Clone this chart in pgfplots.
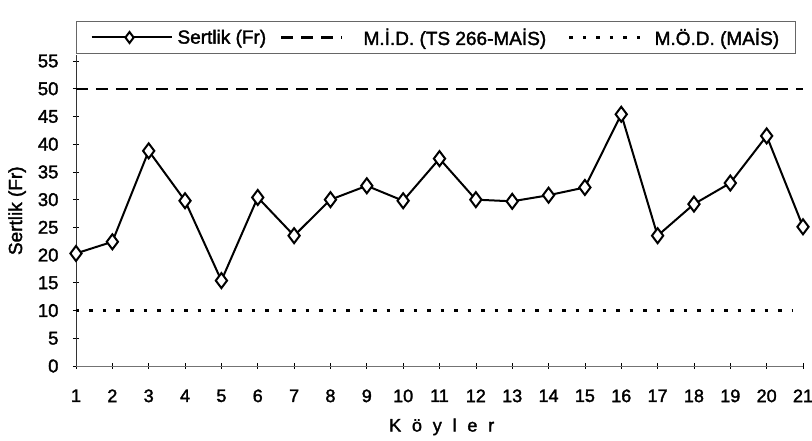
\documentclass[border=0pt]{standalone}
\usepackage{fontspec}
\setmainfont{Liberation Sans}[FakeBold=1.8]
\usepackage{pgfplots}
\usepackage{pgfplotstable}
\pgfplotsset{compat=1.18}

% Legend samples of different lengths for each series
\pgfplotsset{
  legend mark line/.style={legend image code/.code={\draw[mark repeat=2, mark phase=2, ##1, mark size=5.5pt]
    plot coordinates {(0pt,0pt) (38pt,0pt) (80pt,0pt)};}},
  legend dash line/.style={legend image code/.code={\draw[##1] (0pt,0pt) -- (61pt,0pt); \path (76pt,0pt);}},
  legend dot line/.style={legend image code/.code={\draw[##1] (1pt,0pt) -- (80pt,0pt);}},
}

% Hardness of drinking water per village (French degrees)
\pgfplotstableread{
koy sertlik
1  20.3
2  22.4
3  38.8
4  29.8
5  15.4
6  30.4
7  23.5
8  30.0
9  32.5
10 29.8
11 37.4
12 30.0
13 29.7
14 30.8
15 32.2
16 45.4
17 23.5
18 29.2
19 33.0
20 41.5
21 25.1
}\sertlik

\begin{document}
\begin{tikzpicture}
\path[use as bounding box] (0,0) rectangle (812pt,441pt);
\begin{axis}[
  at={(76pt,75pt)}, anchor=south west,
  scale only axis, width=727pt, height=310.5pt,
  xmin=1, xmax=21, ymin=0, ymax=56,
  clip=false,
  axis lines=left, axis line style={-},
  x axis line style={black!55, line width=0.6pt},
  y axis line style={black!80, line width=0.8pt},
  xtick={1,...,21}, ytick={0,5,...,55},
  tick align=center, major tick length=6pt,
  tick style={black, line width=0.7pt},
  /pgf/number format/assume math mode=true,
  yticklabel style={font=\fontsize{18.5}{20}\selectfont, xshift=-11pt},
  xticklabel style={font=\fontsize{18}{20}\selectfont, yshift=-17pt},
  xlabel={K\hspace{0.6em}ö\hspace{0.6em}y\hspace{0.6em}l\hspace{0.6em}e\hspace{0.6em}r},
  xlabel style={at={(axis description cs:0.503,-0.196)}, anchor=center,
    font=\fontsize{18}{20}\selectfont},
  ylabel={Sertlik (Fr)},
  ylabel style={at={(axis description cs:-0.081,0.5)}, anchor=center,
    font=\fontsize{19}{21}\selectfont},
  legend columns=3,
  legend cell align=left,
  legend style={at={(axis description cs:0.495,1.058)}, anchor=center,
    draw=black!60, line width=0.6pt, inner xsep=14pt, inner ysep=5pt,
    font=\fontsize{19}{21}\selectfont,
    /tikz/every odd column/.append style={column sep=3pt},
    /tikz/column 2/.style={column sep=12pt},
    /tikz/column 4/.style={column sep=20pt}},
]
\addplot[black, line width=2pt, mark=diamond*, mark size=7.5pt,
  mark options={fill=white, line width=2pt, solid}, legend mark line]
  table[x=koy, y=sertlik] {\sertlik};
\addlegendentry{Sertlik (Fr)}
\addplot[black, line width=2.4pt, dash pattern=on 12pt off 8pt, legend dash line]
  coordinates {(1,50) (21,50)};
\addlegendentry{M.İ.D. (TS 266-MAİS)}
\addplot[black, line width=2.4pt, dash pattern=on 3.5pt off 10pt, legend dot line]
  coordinates {(1,10) (20.7,10)};
\addlegendentry{M.Ö.D. (MAİS)}
\end{axis}
\end{tikzpicture}
\end{document}
